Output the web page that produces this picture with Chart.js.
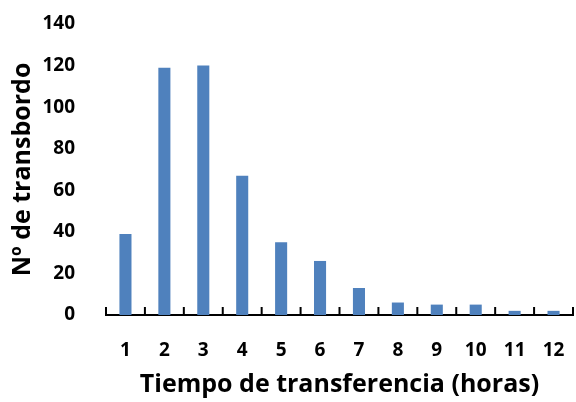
<!DOCTYPE html>
<html lang="es">
<head>
<meta charset="UTF-8">
<title>Tiempo de transferencia</title>
<script src="https://cdn.jsdelivr.net/npm/chart.js@4"></script>
<style>
  html, body { margin: 0; padding: 0; background: #fff; }
  #wrap { width: 576px; height: 402px; }
</style>
</head>
<body>
<div id="wrap"><canvas id="chart" width="576" height="402"></canvas></div>
<script>
const horas = ['1', '2', '3', '4', '5', '6', '7', '8', '9', '10', '11', '12'];
const transbordos = [39, 119, 120, 67, 35, 26, 13, 6, 5, 5, 2, 2];
const yTitle = 'Nº de transbordo';
const xTitle = 'Tiempo de transferencia (horas)';

const fontFamily = '"Open Sans", "Liberation Sans", sans-serif';

// small tick marks between categories, pointing up from the axis line
const innerTicks = {
  id: 'innerTicks',
  afterDatasetsDraw(chart) {
    const x = chart.scales.x;
    const ctx = chart.ctx;
    const y0 = x.top;
    ctx.save();
    ctx.strokeStyle = '#000';
    ctx.lineWidth = 2;
    ctx.beginPath();
    for (let i = 0; i <= horas.length; i++) {
      let px;
      if (i === 0) px = x.left;
      else if (i === horas.length) px = x.right;
      else px = (x.getPixelForValue(i - 1) + x.getPixelForValue(i)) / 2;
      ctx.moveTo(px, y0);
      ctx.lineTo(px, y0 - 8);
    }
    ctx.stroke();
    ctx.restore();
  }
};

new Chart(document.getElementById('chart'), {
  type: 'bar',
  data: {
    labels: horas,
    datasets: [{
      data: transbordos,
      backgroundColor: '#4F81BD',
      borderWidth: 0,
      barPercentage: 0.31,
      categoryPercentage: 1
    }]
  },
  options: {
    responsive: false,
    animation: false,
    layout: { padding: { left: 8, right: 3, top: 24, bottom: 2 } },
    plugins: { legend: { display: false }, tooltip: { enabled: false } },
    scales: {
      x: {
        grid: { display: false },
        border: { display: true, color: '#000', width: 2 },
        ticks: { color: '#000', font: { family: fontFamily, size: 19, weight: 'bold' }, padding: 16, maxRotation: 0 },
        title: { display: true, text: xTitle, color: '#000', font: { family: fontFamily, size: 25, weight: 'bold' }, padding: 0 },
        afterFit(scale) {
          scale.height = 85;
          scale.paddingLeft = 0;
          scale.paddingRight = 0;
        }
      },
      y: {
        min: 0, max: 140,
        grid: { display: false },
        border: { display: false },
        ticks: { stepSize: 20, color: '#000', font: { family: fontFamily, size: 19, weight: 'bold' }, padding: 23 },
        title: { display: true, text: yTitle, color: '#000', font: { family: fontFamily, size: 25, weight: 'bold' }, padding: 0 },
        afterFit(scale) {
          scale.width = 98;
          scale.paddingTop = 0;
          scale.paddingBottom = 0;
        }
      }
    }
  },
  plugins: [innerTicks]
});
</script>
</body>
</html>
